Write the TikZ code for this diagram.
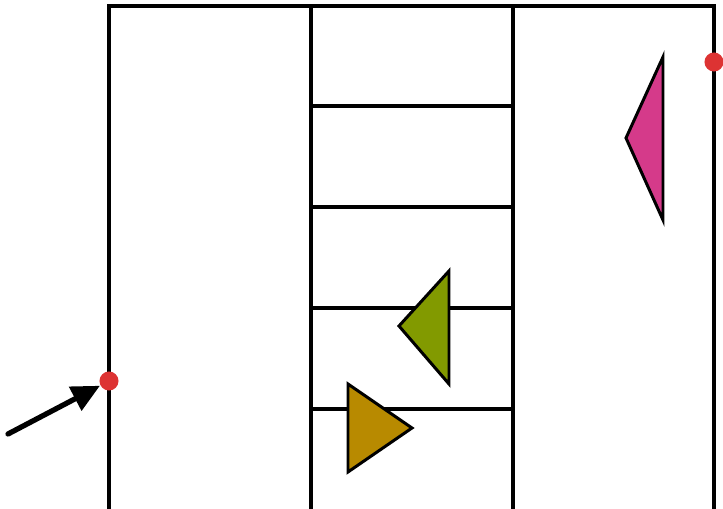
\documentclass[tikz,border=0pt]{standalone}
\usepackage{tikz}
\usepackage{xcolor}
\usetikzlibrary{arrows.meta,positioning,calc}
\definecolor{ink}{HTML}{000000}
\definecolor{dotred}{HTML}{DD3333}
\definecolor{flagpink}{HTML}{D53A8A}
\definecolor{flaggreen}{HTML}{829A00}
\definecolor{flaggold}{HTML}{B88A00}
\tikzset{
  wall/.style={draw=ink,line width=0.9pt},
  pin/.style={circle,fill=dotred,inner sep=0pt,minimum size=0.19cm},
  flag/.style={draw=ink,line width=0.85pt,line join=miter},
  pointer/.style={-{Triangle[length=2.8mm,width=2.6mm]},line width=1.5pt,draw=ink,line cap=round}
}
\begin{document}
\begin{tikzpicture}[x=0.01cm,y=-0.01cm]
      \useasboundingbox (0,0) rectangle (723,509);
      % outer frame and columns
      \draw[wall] (109,6) rectangle (714,511);
      \foreach \x in {311,513} {
        \draw[wall] (\x,6) -- (\x,511);
      }
      % rungs of the middle column
      \foreach \y in {106,207,308,409} {
        \draw[wall] (311,\y) -- (513,\y);
      }
      % triangles
      \draw[flag,fill=flagpink] (663,57) -- (663,220) -- (626,138) -- cycle;
      \draw[flag,fill=flaggreen] (449,271) -- (449,384) -- (399,326) -- cycle;
      \draw[flag,fill=flaggold] (348,384) -- (348,472) -- (412,428) -- cycle;
      % entry and exit points
      \node[pin] (entry) at (109,381) {};
      \node[pin] (exit) at (714,62) {};
      \coordinate (start) at (8,434);
      \draw[pointer] (start) -- (entry);
    \end{tikzpicture}
\end{document}
